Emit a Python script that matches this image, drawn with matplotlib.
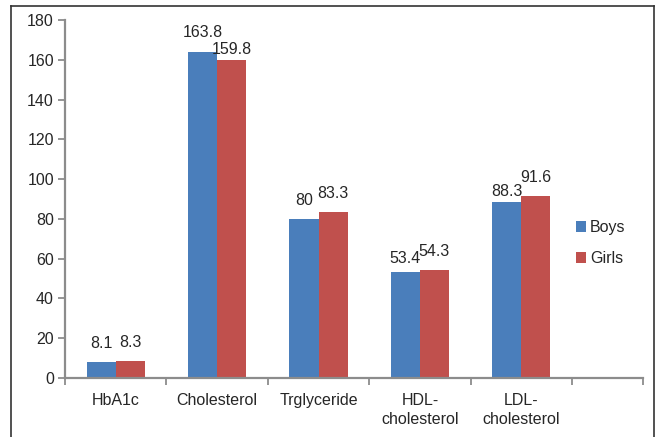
import numpy as np
import matplotlib
matplotlib.use("Agg")
import matplotlib.pyplot as plt
from matplotlib.lines import Line2D

plt.rcParams["font.family"] = ["Liberation Sans", "DejaVu Sans"]

categories = ["HbA1c", "Cholesterol", "Trglyceride", "HDL-\ncholesterol", "LDL-\ncholesterol"]
boys = [8.1, 163.8, 80, 53.4, 88.3]
girls = [8.3, 159.8, 83.3, 54.3, 91.6]
yticks = [0, 20, 40, 60, 80, 100, 120, 140, 160, 180]

BLUE, RED = "#4a7ebb", "#c0504d"
TXT, AX = "#262626", "#8c8c8c"
FS = 11.5

# label nudges (points above bar top), the original had a few moved by hand
boys_pad = [8, 9, 8, 4, 2.5]
girls_pad = [8, 2.5, 8, 8, 8]

fig = plt.figure(figsize=(6.57, 4.37), dpi=100)
ax = fig.add_axes([65 / 657, 1 - 378 / 437, (643 - 65) / 657, (378 - 20) / 437])

x = np.arange(len(categories)); w = 0.287
bb = ax.bar(x - w / 2, boys, w, color=BLUE, label="Boys")
bg = ax.bar(x + w / 2, girls, w, color=RED, label="Girls")
for bars, vals, pads in [(bb, boys, boys_pad), (bg, girls, girls_pad)]:
    for r, v, p in zip(bars, vals, pads):
        ax.annotate(f"{v:g}", (r.get_x() + r.get_width() / 2, v), xytext=(0, p),
                    textcoords="offset points", ha="center", va="bottom",
                    fontsize=FS, color=TXT)

ax.set_xlim(-0.5, 5.2); ax.set_ylim(0, 180)
ax.set_yticks(yticks)
ax.set_xticks(x); ax.set_xticklabels(categories, linespacing=1.3)
ax.set_xticks(list(np.arange(-0.5, 5, 1)) + [5.2], minor=True)
ax.tick_params(axis="x", which="major", length=0, pad=11, labelsize=FS, labelcolor=TXT)
ax.tick_params(axis="x", which="minor", length=5, color=AX, width=1.3, direction="out")
ax.tick_params(axis="y", length=5, color=AX, width=1.3, labelsize=FS, labelcolor=TXT, pad=3)
for s in ["top", "right"]:
    ax.spines[s].set_visible(False)
for s in ["left", "bottom"]:
    ax.spines[s].set_color(AX); ax.spines[s].set_linewidth(1.6)

ax.legend(loc="center left", bbox_to_anchor=(576 / 657, 1 - 243 / 437),
          bbox_transform=fig.transFigure, frameon=False, fontsize=FS,
          handlelength=0.62, handleheight=0.62, handletextpad=0.25,
          labelspacing=1.0, borderpad=0, borderaxespad=0, labelcolor=TXT)

# outer chart frame
fr = dict(color="#333333", lw=1.2, transform=fig.transFigure)
x0, x1, yt = 11 / 657, 654 / 657, 1 - 6 / 437
fig.add_artist(Line2D([x0, x0], [0, yt], **fr))
fig.add_artist(Line2D([x0, x1], [yt, yt], **fr))
fig.add_artist(Line2D([x1, x1], [0, yt], **fr))

fig.savefig("out.png", dpi=100)
